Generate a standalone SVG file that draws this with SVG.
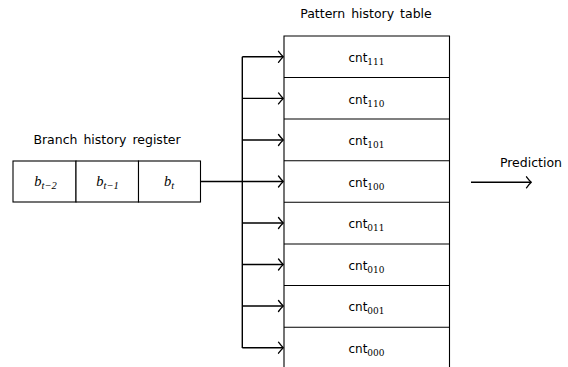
<svg xmlns="http://www.w3.org/2000/svg" width="568" height="367" viewBox="0 0 568 367">
  <defs>
    <marker id="tip" viewBox="-6 -6 8 12" markerWidth="8" markerHeight="12" refX="0" refY="0" markerUnits="userSpaceOnUse" orient="auto" overflow="visible">
      <path d="M-4.5,-5.5 Q-1.5,-1.5 0.3,0 Q-1.5,1.5 -4.5,5.5" fill="none" stroke="#000" stroke-width="1.3" stroke-linecap="round" stroke-linejoin="round"/>
    </marker>
    <style>
      .box { fill: #fff; stroke: #000; stroke-width: 1.1; }
      .ln { fill: none; stroke: #000; stroke-width: 1.4; }
      .arr { fill: none; stroke: #000; stroke-width: 1.4; marker-end: url(#tip); }
      .sans { font-family: "DejaVu Sans", "Liberation Sans", sans-serif; font-size: 12.5px; word-spacing: 2px; fill: #000; }
      .cnt { font-family: "DejaVu Sans", "Liberation Sans", sans-serif; font-size: 12px; fill: #000; }
      .sub { font-family: "DejaVu Serif", "Liberation Serif", serif; font-size: 9px; }
      .math { font-family: "Liberation Serif", "DejaVu Serif", serif; font-style: italic; font-size: 14.5px; fill: #000; }
      .msub { font-size: 10.5px; }
    </style>
  </defs>

  <!-- branch history register -->
  <g id="bhr">
    <text class="sans" x="107" y="144" text-anchor="middle">Branch history register</text>
    <rect class="box" x="13" y="161" width="63" height="41"/>
    <rect class="box" x="76" y="161" width="62.5" height="41"/>
    <rect class="box" x="138.5" y="161" width="62" height="41"/>
    <text class="math" x="45.5" y="186" text-anchor="middle">b<tspan class="msub" dy="3">t−2</tspan></text>
    <text class="math" x="107.5" y="186" text-anchor="middle">b<tspan class="msub" dy="3">t−1</tspan></text>
    <text class="math" x="169" y="186" text-anchor="middle">b<tspan class="msub" dy="3">t</tspan></text>
  </g>

  <!-- pattern history table -->
  <g id="pht">
    <text class="sans" x="366" y="18" text-anchor="middle">Pattern history table</text>
    <path class="box" d="M284,367 V36 H449.5 V367" fill="none"/>
    <path class="box" d="M284,77.5 H449.5 M284,119 H449.5 M284,160.7 H449.5 M284,202.3 H449.5 M284,244 H449.5 M284,285.5 H449.5 M284,327.2 H449.5"/>
    <text class="cnt" x="366.5" y="62" text-anchor="middle">cnt<tspan class="sub" dy="3">111</tspan></text>
    <text class="cnt" x="366.5" y="103.5" text-anchor="middle">cnt<tspan class="sub" dy="3">110</tspan></text>
    <text class="cnt" x="366.5" y="145" text-anchor="middle">cnt<tspan class="sub" dy="3">101</tspan></text>
    <text class="cnt" x="366.5" y="186.5" text-anchor="middle">cnt<tspan class="sub" dy="3">100</tspan></text>
    <text class="cnt" x="366.5" y="228" text-anchor="middle">cnt<tspan class="sub" dy="3">011</tspan></text>
    <text class="cnt" x="366.5" y="269.5" text-anchor="middle">cnt<tspan class="sub" dy="3">010</tspan></text>
    <text class="cnt" x="366.5" y="311" text-anchor="middle">cnt<tspan class="sub" dy="3">001</tspan></text>
    <text class="cnt" x="366.5" y="352.5" text-anchor="middle">cnt<tspan class="sub" dy="3">000</tspan></text>
  </g>

  <!-- prediction output -->
  <g id="prediction">
    <text class="sans" x="531" y="167" text-anchor="middle">Prediction</text>
  </g>

  <!-- connectors -->
  <g id="connectors">
    <path class="ln" d="M200.5,181.5 H242.3"/>
    <path class="ln" d="M242.3,56.8 V348"/>
    <path class="arr" d="M242.3,56.8 H283"/>
    <path class="arr" d="M242.3,98.4 H283"/>
    <path class="arr" d="M242.3,140 H283"/>
    <path class="arr" d="M242.3,181.5 H283"/>
    <path class="arr" d="M242.3,223 H283"/>
    <path class="arr" d="M242.3,264.5 H283"/>
    <path class="arr" d="M242.3,306 H283"/>
    <path class="arr" d="M242.3,347.7 H283"/>
    <path class="arr" d="M471,182.3 H531"/>
  </g>
</svg>
